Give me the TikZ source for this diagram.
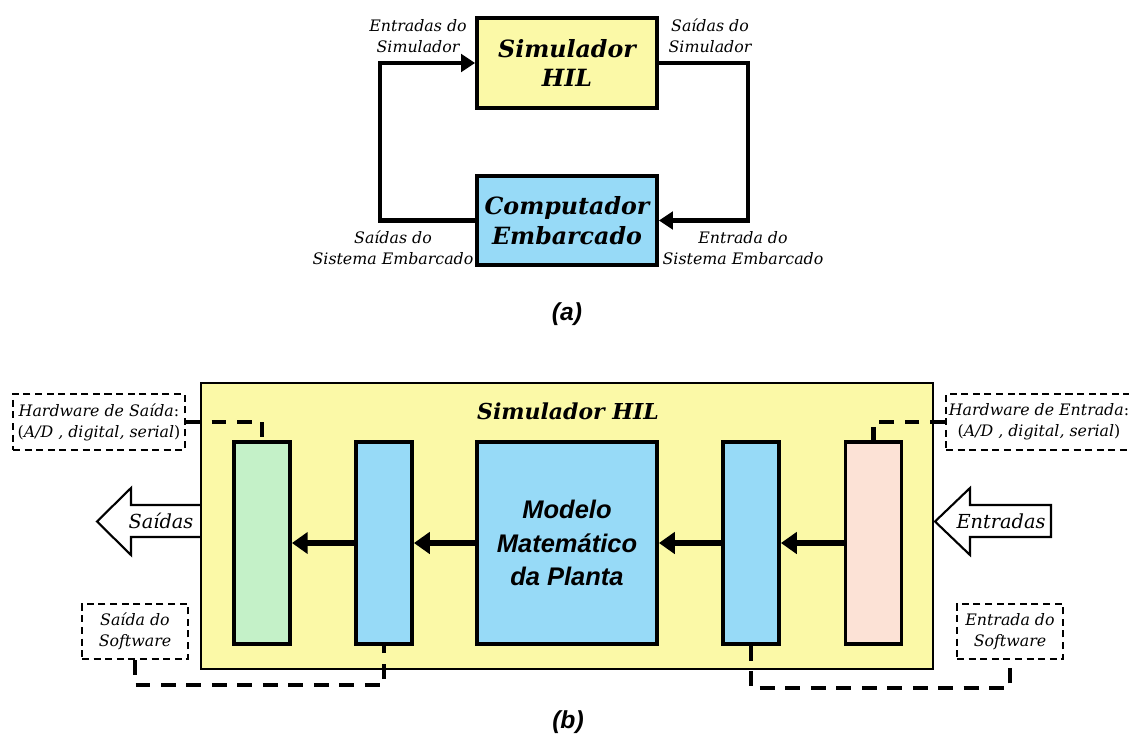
\documentclass[tikz,border=0pt]{standalone}
\usepackage{fontspec}
\setmainfont{DejaVu Serif}
\newfontfamily\arialfam{Liberation Sans}
\usetikzlibrary{arrows.meta}
\definecolor{hilyellow}{RGB}{251,249,167}
\definecolor{cpublue}{RGB}{151,218,247}
\definecolor{outgreen}{RGB}{196,241,200}
\definecolor{inpink}{RGB}{252,226,214}
\newlength\pxl
\setlength\pxl{0.02cm}
\tikzset{
  lbl/.style={font=\itshape\fontsize{9}{11.9}\selectfont, align=center, inner sep=0pt},
  bigttl/.style={font=\bfseries\itshape\fontsize{13.5}{17}\selectfont, align=center},
  blk/.style={draw, line width=2.2pt, inner sep=0pt},
  slim/.style={blk, minimum width=56\pxl, minimum height=202\pxl},
  loopline/.style={line width=2.4pt, -{Triangle[length=8pt,width=10pt]}},
  flow/.style={line width=3.2pt, -{Triangle[length=9pt,width=12pt]}},
  dbox/.style={draw, line width=1.2pt, dash pattern=on 4pt off 2.6pt, inner sep=0pt},
  dconn/.style={line width=2.3pt, dash pattern=on 8.5pt off 6pt},
  hollow/.style={draw, line width=1.2pt, fill=white},
  caption/.style={font=\arialfam\bfseries\itshape\fontsize{14}{17}\selectfont}
}
\begin{document}
\begin{tikzpicture}[x=0.02cm, y=-0.02cm]
\useasboundingbox (0,0) rectangle (1129,737);

% ---- (a) closed loop ----
\node[blk, bigttl, fill=hilyellow, minimum width=180\pxl, minimum height=90\pxl] (sim) at (567,63) {Simulador\\HIL};
\node[blk, bigttl, fill=cpublue, minimum width=180\pxl, minimum height=89\pxl] (cpu) at (567,220.5) {Computador\\Embarcado};
\draw[loopline] (cpu.west) -- ++(-95,0) |- (sim.west);
\draw[loopline] (sim.east) -- ++(89,0) |- (cpu.east);

\node[lbl] (inSim) at (418,36) {Entradas do\\Simulador};
\node[lbl] (outSim) at (710,36) {Saídas do\\Simulador};
\node[lbl] (outEmb) at (393,248) {Saídas do\\Sistema Embarcado};
\node[lbl] (inEmb) at (743,248) {Entrada do\\Sistema Embarcado};

\node[caption] (capA) at (567,314) {(a)};

% ---- (b) inside the HIL simulator ----
% outgoing hollow arrow sits behind the simulator frame
\draw[hollow] (203,505) -- (131,505) -- (131,488) -- (97,521.5) -- (131,555) -- (131,537) -- (203,537);
\node[font=\itshape\fontsize{11}{13}\selectfont] (outs) at (161,521) {Saídas};

\node[draw, line width=1.1pt, fill=hilyellow, minimum width=732\pxl, minimum height=286\pxl] (hil) at (567,526) {};
\node[font=\bfseries\itshape\fontsize{12.5}{15}\selectfont] (hilTitle) at (568,411) {Simulador HIL};

\node[slim, fill=outgreen] (green) at (262,543) {};
\node[slim, fill=cpublue] (blue2) at (384,543) {};
\node[blk, fill=cpublue, minimum width=180\pxl, minimum height=202\pxl,
      font=\arialfam\bfseries\itshape\fontsize{14.5}{19}\selectfont, align=center] (model) at (567,543) {Modelo\\Matemático\\da Planta};
\node[slim, fill=cpublue] (blue3) at (751,543) {};
\node[slim, fill=inpink] (pink) at (873.5,543) {};

\draw[flow] (pink.west) -- (blue3.east);
\draw[flow] (blue3.west) -- (model.east);
\draw[flow] (model.west) -- (blue2.east);
\draw[flow] (blue2.west) -- (green.east);

% incoming hollow arrow
\draw[hollow] (935,521.5) -- (970,488) -- (970,505) -- (1051,505) -- (1051,537) -- (970,537) -- (970,555) -- cycle;
\node[font=\itshape\fontsize{11}{13}\selectfont] (ins) at (1001,521) {Entradas};

% dashed annotation boxes
\node[dbox, lbl, minimum width=172\pxl, minimum height=56\pxl] (hws) at (99,422)
  {Hardware de Saída{\upshape:}\\{\upshape(}A/D , digital, serial{\upshape)}};
\node[dbox, lbl, minimum width=186\pxl, minimum height=56\pxl] (hwe) at (1039,422)
  {Hardware de Entrada{\upshape:}\\{\upshape(}A/D , digital, serial{\upshape)}};
\node[dbox, lbl, minimum width=106\pxl, minimum height=55\pxl] (sws) at (135,631.5) {Saída do\\Software};
\node[dbox, lbl, minimum width=106\pxl, minimum height=55\pxl] (swe) at (1010,631.5) {Entrada do\\Software};

\coordinate (lowL) at (0,685);
\coordinate (lowR) at (0,688);
\draw[dconn] (hws.east) -| (green.north);
\draw[dconn] (hwe.west) -| (pink.north);
\draw[dconn] (sws.south) -- (sws.south |- lowL) -| (blue2.south);
\draw[dconn] (blue3.south) -- (blue3.south |- lowR) -| (swe.south);

\node[caption] (capB) at (568,722) {(b)};
\end{tikzpicture}
\end{document}
